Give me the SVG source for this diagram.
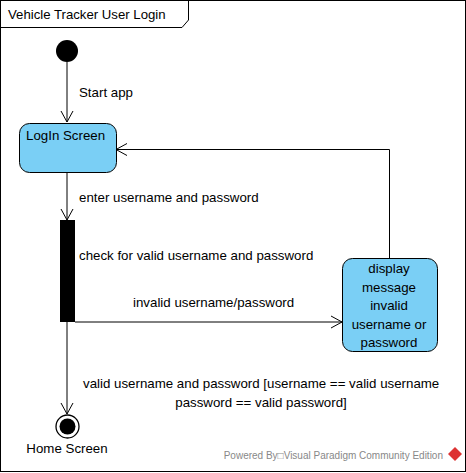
<svg xmlns="http://www.w3.org/2000/svg" width="466" height="473" viewBox="0 0 466 473">
<style>
text{font-family:"Liberation Sans",Arial,sans-serif;font-size:13.3px;fill:#000}
.state{fill:#7ACFF5;stroke:#000;stroke-width:1}
.edge{fill:none;stroke:#000;stroke-width:1}
.head{fill:none;stroke:#000;stroke-width:1}
</style>
<rect x="0" y="0" width="466" height="473" fill="#fff"/>
<g id="frame">
<rect x="0.5" y="0.5" width="465" height="471" fill="none" stroke="#000"/>
<path d="M0.5,27.5 H182 L188.5,20 V0.5" fill="none" stroke="#000"/>
<text x="8" y="19" style="font-size:13.2px">Vehicle Tracker User Login</text>
</g>
<g id="connectors">
<path class="edge" d="M67,62 V122"/>
<path class="head" d="M61,111 L67,122 L73,111"/>
<text x="79" y="97">Start app</text>
<path class="edge" d="M67,172 V220"/>
<path class="head" d="M61,209 L67,220 L73,209"/>
<text x="79" y="202">enter username and password</text>
<path class="edge" d="M75,322 H342"/>
<path class="head" d="M331,316 L342,322 L331,328"/>
<text x="133" y="307">invalid username/password</text>
<path class="edge" d="M389.5,258 V149.5 H116"/>
<path class="head" d="M127,143.5 L116,149.5 L127,155.5"/>
<path class="edge" d="M67,322 V414"/>
<path class="head" d="M61,403 L67,414 L73,403"/>
<text x="83" y="388">valid username and password [username == valid username</text>
<text x="261" y="407" text-anchor="middle">password == valid password]</text>
</g>
<g id="initial">
<circle cx="67" cy="51" r="11" fill="#000"/>
</g>
<g id="login">
<rect class="state" x="19.5" y="123.5" width="97" height="49" rx="10" ry="10"/>
<text x="26" y="140">LogIn Screen</text>
</g>
<g id="fork">
<rect x="60" y="220" width="15" height="102" fill="#000"/>
<text x="79" y="260">check for valid username and password</text>
</g>
<g id="display">
<rect class="state" x="342.5" y="258.5" width="95" height="93" rx="10" ry="10"/>
<text x="389" y="273" text-anchor="middle">display</text>
<text x="389" y="292" text-anchor="middle">message</text>
<text x="389" y="310" text-anchor="middle">invalid</text>
<text x="389" y="329" text-anchor="middle">username or</text>
<text x="389" y="347" text-anchor="middle">password</text>
</g>
<g id="final">
<circle cx="67.5" cy="426.5" r="11.5" fill="#fff" stroke="#000" stroke-width="1.3"/>
<circle cx="67.5" cy="426.5" r="8" fill="#000"/>
<text x="67" y="453" text-anchor="middle">Home Screen</text>
</g>
<g id="watermark">
<text x="443" y="459" text-anchor="end" style="font-size:10px;fill:#888">Powered By□Visual Paradigm Community Edition</text>
<polygon points="455,447 462,454 455,461 448,454" fill="#d33"/>
</g>
</svg>
